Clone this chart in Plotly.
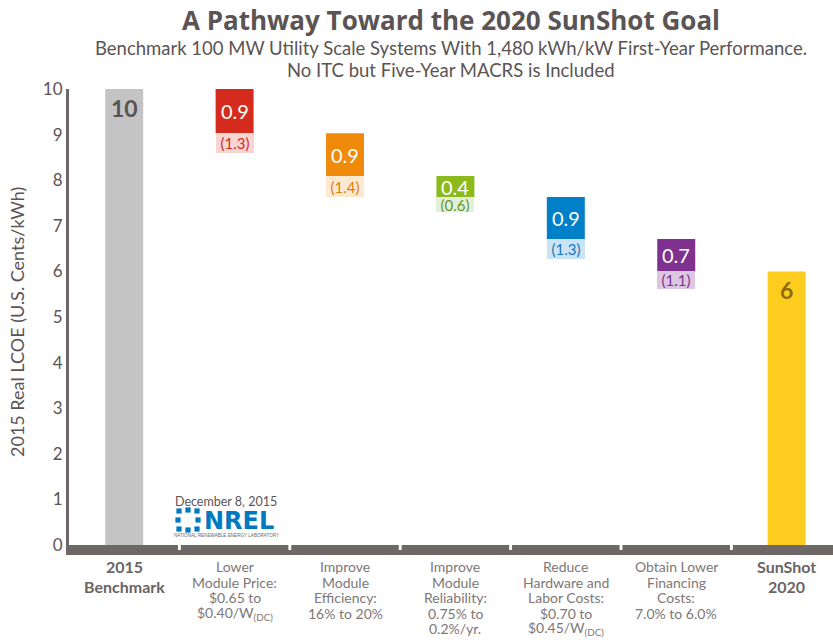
import plotly.graph_objects as go

# ---------------- data ----------------
categories = ["2015 Benchmark", "Lower Module Price", "Improve Module Efficiency",
              "Improve Module Reliability", "Reduce Hardware and Labor Costs",
              "Obtain Lower Financing Costs", "SunShot 2020"]
benchmark_value = 10
sunshot_value = 6
step_drop = [0.97, 0.94, 0.46, 0.92, 0.71]          # drawn height of each reduction
step_label = ["0.9", "0.9", "0.4", "0.9", "0.7"]
alt_label = ["(1.3)", "(1.4)", "(0.6)", "(1.3)", "(1.1)"]
cat_lines = [
    ["2015", "Benchmark"],
    ["Lower", "Module Price:", "$0.65 to", "$0.40/W<sub>(DC)</sub>"],
    ["Improve", "Module", "Efficiency:", "16% to 20%"],
    ["Improve", "Module", "Reliability:", "0.75% to", "0.2%/yr."],
    ["Reduce", "Hardware and", "Labor Costs:", "$0.70 to", "$0.45/W<sub>(DC)</sub>"],
    ["Obtain Lower", "Financing", "Costs:", "7.0% to 6.0%"],
    ["SunShot", "2020"],
]
ytick_vals = list(range(0, 11))

# ---------------- styles ----------------
dark_cols = ["#d52b1e", "#f08a0a", "#8cba1c", "#0080c9", "#7f3190"]
light_cols = ["#f7d6d2", "#fde8d2", "#e4efd9", "#c9e4f5", "#dcc6e1"]
alt_text_cols = ["#d52b1e", "#e07f0a", "#5f9a2a", "#1a74b8", "#7f3190"]
light_box_px = [20, 21, 15, 20, 18]
GRAY_TXT = "#5b5454"
AXIS_GRAY = "#6d6767"
FONT = "Lato"
BAR_W = 0.344

# waterfall tops / bottoms
tops, bottoms = [], []
level = benchmark_value
for d in step_drop:
    tops.append(level)
    level -= d
    bottoms.append(level)

step_cats = categories[1:6]

fig = go.Figure()
fig.add_trace(go.Bar(x=[categories[0]], y=[benchmark_value], base=[0], width=BAR_W,
                     marker=dict(color="#c4c4c4", line_width=0), hoverinfo="skip"))
fig.add_trace(go.Bar(x=step_cats, y=step_drop, base=bottoms, width=BAR_W,
                     marker=dict(color=dark_cols, line_width=0), hoverinfo="skip"))
fig.add_trace(go.Bar(x=[categories[6]], y=[sunshot_value], base=[0], width=BAR_W,
                     marker=dict(color="#fccd1e", line_width=0), hoverinfo="skip"))

ann = []
# total labels
ann.append(dict(x=categories[0], y=benchmark_value, yanchor="middle", xanchor="center",
                yshift=-19, text="<b>10</b>", showarrow=False,
                font=dict(family=FONT, size=23, color=GRAY_TXT)))
ann.append(dict(x=categories[6], y=sunshot_value, yanchor="middle", xanchor="center",
                yshift=-19, text="<b>6</b>", showarrow=False,
                font=dict(family=FONT, size=23, color="#8c6c08")))
# step labels
for i, c in enumerate(step_cats):
    ann.append(dict(x=c, y=(tops[i] + bottoms[i]) / 2, yanchor="middle", xanchor="center",
                    text=step_label[i], showarrow=False,
                    font=dict(family=FONT, size=20, color="white")))
    ann.append(dict(x=c, y=bottoms[i], yanchor="top", xanchor="center",
                    text=alt_label[i], showarrow=False, width=38, height=light_box_px[i],
                    bgcolor=light_cols[i], borderpad=0, borderwidth=0,
                    font=dict(family=FONT, size=15, color=alt_text_cols[i])))

# category labels (one annotation per line)
for i, lines in enumerate(cat_lines):
    bold = i in (0, 6)
    step = 19.5 if bold else 15.6
    for k, ln in enumerate(lines):
        ann.append(dict(x=categories[i], xref="x", y=0, yref="paper", xanchor="center",
                        yanchor="middle", yshift=-(11.5 + k * step),
                        text=f"<b>{ln}</b>" if bold else ln, showarrow=False,
                        font=dict(family=FONT, size=16 if bold else 14,
                                  color="#6b6464" if bold else "#7d7777")))

# titles
ann.append(dict(x=0.5, xref="paper", xanchor="center", y=1, yref="paper", yanchor="middle",
                yshift=89 - 20,
                text="<b>A Pathway Toward the 2020 SunShot Goal</b>", showarrow=False,
                font=dict(family="Open Sans", size=26, color=GRAY_TXT)))
ann.append(dict(x=0.5, xref="paper", xanchor="center", y=1, yref="paper", yanchor="middle",
                yshift=89 - 48,
                text="Benchmark 100 MW Utility Scale Systems With 1,480 kWh/kW First-Year Performance.",
                showarrow=False, font=dict(family=FONT, size=18.5, color=GRAY_TXT)))
ann.append(dict(x=0.5, xref="paper", xanchor="center", y=1, yref="paper", yanchor="middle",
                yshift=89 - 70,
                text="No ITC but Five-Year MACRS is Included",
                showarrow=False, font=dict(family=FONT, size=18.5, color=GRAY_TXT)))
# y-axis title
ann.append(dict(x=0, xref="paper", xanchor="center", xshift=-52, y=0.5, yref="paper",
                yanchor="middle", textangle=-90,
                text="2015 Real LCOE (U.S. Cents/kWh)", showarrow=False,
                font=dict(family=FONT, size=18, color=GRAY_TXT)))

# logo block (decorative), pixel helpers
PL, PR, PT, PB = 69, 833, 89, 555
def px(xp):
    return (xp - PL) / (PR - PL)
def py(yp):
    return (PB - yp) / (PB - PT)

ann.append(dict(x=px(226), xref="paper", xanchor="center", y=py(501), yref="paper",
                yanchor="middle", text="December 8, 2015", showarrow=False,
                font=dict(family=FONT, size=12.5, color=GRAY_TXT)))
ann.append(dict(x=px(239), xref="paper", xanchor="center", y=py(521), yref="paper",
                yanchor="middle", text="<b>NREL</b>", showarrow=False,
                font=dict(family="DejaVu Sans", size=24, color="#0079c1")))
ann.append(dict(x=px(226), xref="paper", xanchor="center", y=py(535), yref="paper",
                yanchor="middle",
                text="NATIONAL RENEWABLE ENERGY LABORATORY", showarrow=False,
                font=dict(family="Liberation Sans", size=4.6, color="#6a6a6a")))

shapes = []
# axis band
shapes.append(dict(type="rect", xref="paper", x0=0, x1=1, yref="y", y0=-0.22, y1=0,
                   fillcolor=AXIS_GRAY, line_width=0, layer="above"))
# white notches at category boundaries
for i in range(len(categories) - 1):
    b = i + 0.5
    shapes.append(dict(type="rect", xref="x", x0=b - 0.013, x1=b + 0.013, yref="y",
                       y0=-0.11, y1=0, fillcolor="white", line_width=0, layer="above"))
# NREL mark: ring of small squares
cx, cy = 188, 520
for dx, dy in [(-9, -9), (0, -10), (9, -9), (-10, 0), (10, 0), (-9, 9), (0, 10), (9, 9)]:
    s = 2.6
    shapes.append(dict(type="rect", xref="paper", yref="paper",
                       x0=px(cx + dx - s), x1=px(cx + dx + s),
                       y0=py(cy + dy + s), y1=py(cy + dy - s),
                       fillcolor="#0079c1", line_width=0))

fig.update_layout(
    width=833, height=640,
    margin=dict(l=PL, r=833 - PR, t=PT, b=640 - PB, pad=0),
    paper_bgcolor="white", plot_bgcolor="white",
    showlegend=False, barmode="overlay",
    annotations=ann, shapes=shapes,
    xaxis=dict(type="category", categoryorder="array", categoryarray=categories,
               range=[-0.5, 6.42], showticklabels=False, showgrid=False,
               zeroline=False, showline=False, ticks="", fixedrange=True),
    yaxis=dict(range=[-0.22, 10], tickvals=ytick_vals, showgrid=False, zeroline=False,
               showline=True, linecolor=AXIS_GRAY, linewidth=3, ticks="",
               tickfont=dict(family=FONT, size=17, color=GRAY_TXT), fixedrange=True),
)

fig.write_html("out.html")
